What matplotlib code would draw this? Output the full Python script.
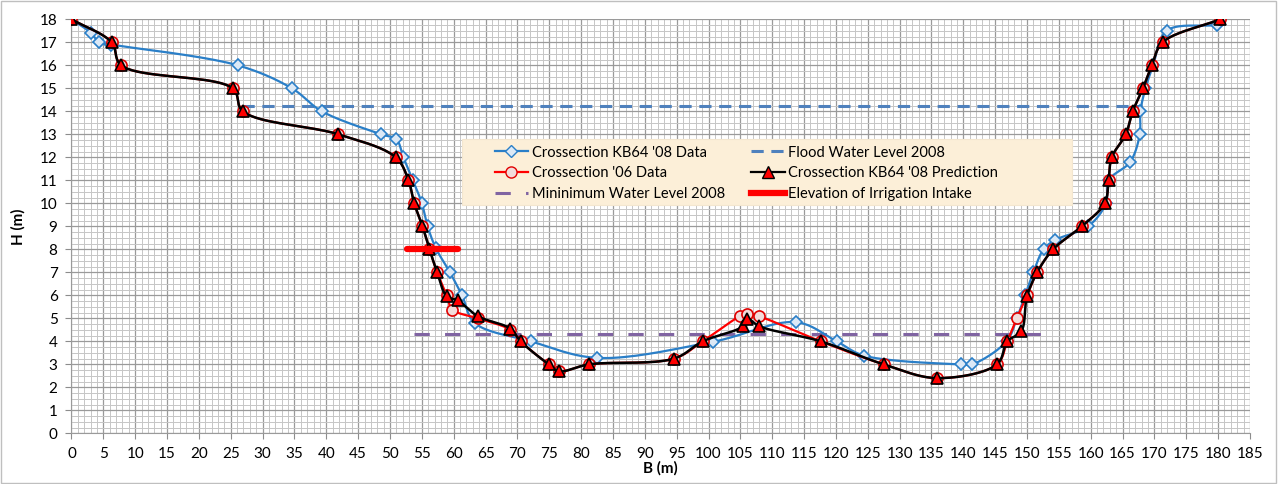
import numpy as np
import matplotlib
matplotlib.use('Agg')
from matplotlib import pyplot as plt
from matplotlib.ticker import MultipleLocator
from matplotlib.patches import Rectangle
from matplotlib.lines import Line2D

plt.rcParams['font.family'] = ['Lato', 'DejaVu Sans']

# Crossection KB64 '08 Data
b08 = [0, 3.1, 4.3, 6.2, 26.1, 34.6, 39.3, 48.6, 51.0, 52.1, 53.6, 55.0, 55.9, 57.2,
       59.4, 61.3, 63.3, 72.1, 82.5, 100.7, 113.8, 120.1, 124.4, 139.7, 141.4, 146.8,
       148.4, 149.7, 151.0, 152.6, 154.4, 159.6, 162.4, 162.8, 166.2, 167.7, 167.8,
       168.6, 169.8, 171.9, 179.8]
h08 = [18, 17.4, 17.0, 16.9, 16.0, 15.0, 14.0, 13.0, 12.78, 12.0, 11.0, 10.0, 9.0, 8.05,
       7.0, 6.0, 4.8, 4.0, 3.28, 3.98, 4.83, 4.0, 3.38, 3.0, 3.0, 4.0,
       5.0, 6.0, 7.0, 8.0, 8.4, 9.0, 10.0, 11.0, 11.8, 13.0, 14.0,
       15.0, 16.0, 17.5, 17.75]

# Crossection '06 Data
b06 = [0, 6.3, 7.8, 25.3, 26.9, 41.9, 50.9, 52.9, 53.8, 55.1, 56.2, 57.4, 58.9, 59.8,
       63.8, 68.9, 70.5, 74.9, 76.5, 81.3, 94.6, 99.1, 104.9, 106.0, 107.9, 117.6,
       127.5, 135.9, 145.3, 146.9, 148.4, 150.0, 151.6, 154.1, 158.6, 162.2, 162.8,
       163.3, 165.5, 166.6, 168.2, 169.6, 171.3, 180.3]
h06 = [18, 17, 16, 15, 14, 13, 12, 11, 10, 9, 8, 7, 6.0, 5.38,
       5.0, 4.5, 4.0, 3.0, 2.7, 3.0, 3.25, 4.0, 5.09, 5.2, 5.09, 4.0,
       3.0, 2.4, 3.0, 4.0, 5.0, 6.0, 7.0, 8.0, 9.0, 10.0, 11.0,
       12.0, 13.0, 14.0, 15.0, 16.0, 17.0, 18.0]

# Crossection KB64 '08 Prediction
bpr = [0, 6.3, 7.8, 25.3, 26.9, 41.9, 50.9, 52.9, 53.8, 55.1, 56.2, 57.4, 58.9, 60.6,
       63.8, 68.9, 70.5, 74.9, 76.5, 81.3, 94.6, 99.1, 105.4, 106.1, 108.0, 117.6,
       127.5, 135.9, 145.3, 146.9, 149.1, 150.0, 151.6, 154.1, 158.6, 162.2, 162.8,
       163.3, 165.5, 166.6, 168.2, 169.6, 171.3, 180.3]
hpr = [18, 17, 16, 15, 14, 13, 12, 11, 10, 9, 8, 7, 5.95, 5.78,
       5.09, 4.55, 4.0, 3.0, 2.7, 3.0, 3.25, 4.0, 4.65, 4.98, 4.65, 4.0,
       3.0, 2.4, 3.0, 4.0, 4.43, 5.95, 7.0, 8.0, 9.0, 10.0, 11.0,
       12.0, 13.0, 14.0, 15.0, 16.0, 17.0, 18.0]

flood_b = [26.7, 168.0]
flood_h = 14.25
minwl_b = [53.8, 154.1]
minwl_h = 4.3
intake_b = [52.6, 60.7]
intake_h = 8.0

YS = 3.6  # y stretch so distances match the screen


def smooth(x, y, n=20):
    # centripetal catmull-rom through the points (excel style smoothed line)
    p = np.column_stack([x, np.array(y, float) * YS]).astype(float)
    p = np.vstack([2 * p[0] - p[1], p, 2 * p[-1] - p[-2]])
    out = []
    for i in range(1, len(p) - 2):
        P0, P1, P2, P3 = p[i - 1], p[i], p[i + 1], p[i + 2]
        t0 = 0.0
        t1 = t0 + np.linalg.norm(P1 - P0) ** 0.5 + 1e-9
        t2 = t1 + np.linalg.norm(P2 - P1) ** 0.5 + 1e-9
        t3 = t2 + np.linalg.norm(P3 - P2) ** 0.5 + 1e-9
        t = np.linspace(t1, t2, n, endpoint=False)[:, None]
        A1 = (t1 - t) / (t1 - t0) * P0 + (t - t0) / (t1 - t0) * P1
        A2 = (t2 - t) / (t2 - t1) * P1 + (t - t1) / (t2 - t1) * P2
        A3 = (t3 - t) / (t3 - t2) * P2 + (t - t2) / (t3 - t2) * P3
        B1 = (t2 - t) / (t2 - t0) * A1 + (t - t0) / (t2 - t0) * A2
        B2 = (t3 - t) / (t3 - t1) * A2 + (t - t1) / (t3 - t1) * A3
        out.append((t2 - t) / (t2 - t1) * B1 + (t - t1) / (t2 - t1) * B2)
    out.append(p[-2][None, :])
    out = np.vstack(out)
    return out[:, 0], out[:, 1] / YS


fig = plt.figure(figsize=(12.79, 4.84), dpi=100)
ax = fig.add_axes([0.0559, 0.1047, 0.9773 - 0.0559, 0.9601 - 0.1047])
fig.patches.append(Rectangle((0.001, 0.002), 0.997, 0.995, transform=fig.transFigure,
                             fill=False, edgecolor='#BFBFBF', lw=1.0))

blue = '#2A7FC8'
sx, sy = smooth(b08, h08)
ax.plot(sx, sy, color=blue, lw=1.6, zorder=3)
ax.plot(b08, h08, ls='none', marker='D', ms=6, mfc='#DCE9F6', mec=blue, mew=1.2, zorder=4)

sx, sy = smooth(b06, h06)
ax.plot(sx, sy, color='#FF0000', lw=1.6, zorder=5)
ax.plot(b06, h06, ls='none', marker='o', ms=8, mfc='#F2DCDB', mec='#E00000', mew=1.2, zorder=6)

sx, sy = smooth(bpr, hpr)
ax.plot(sx, sy, color='black', lw=1.8, zorder=7)
ax.plot(bpr, hpr, ls='none', marker='^', ms=9, mfc='#FF0000', mec='black', mew=1.2, zorder=8)

ax.plot(flood_b, [flood_h, flood_h], color='#4F81BD', lw=2.2, dashes=(4, 2.5), zorder=2)
ax.plot(minwl_b, [minwl_h, minwl_h], color='#8064A2', lw=2.2, dashes=(5, 5), zorder=2)
ax.plot(intake_b, [intake_h, intake_h], color='#FF0000', lw=4.5, solid_capstyle='round', zorder=9)

ax.set_xlim(0, 185)
ax.set_ylim(0, 18)
ax.xaxis.set_major_locator(MultipleLocator(5))
ax.xaxis.set_minor_locator(MultipleLocator(1))
ax.yaxis.set_major_locator(MultipleLocator(1))
ax.yaxis.set_minor_locator(MultipleLocator(0.25))
ax.grid(which='major', color='#9A9A9A', lw=0.9)
ax.grid(which='minor', color='#C6C6C6', lw=0.7)
ax.set_axisbelow(True)
ax.tick_params(which='major', direction='out', length=4, color='#8C8C8C', labelsize=11, pad=6)
ax.tick_params(which='minor', length=0)
for s in ax.spines.values():
    s.set_color('#9A9A9A')
ax.spines['top'].set_visible(False)
ax.spines['right'].set_visible(False)

ax.set_xlabel('B (m)', fontsize=11, fontweight='bold', labelpad=0)
ax.set_ylabel('H (m)', fontsize=11, fontweight='bold', labelpad=10)

# legend background box
ax.add_patch(Rectangle((0.331, 0.552), 0.518, 0.159, transform=ax.transAxes,
                       facecolor='#FCEFD8', edgecolor='#F3E6CF', lw=0.8, zorder=19))

handles = [
    Line2D([], [], color=blue, lw=1.6, marker='D', ms=6, mfc='#DCE9F6', mec=blue),
    Line2D([], [], color='#FF0000', lw=1.6, marker='o', ms=8, mfc='#F2DCDB', mec='#E00000'),
    Line2D([], [], color='#8064A2', lw=2.2, dashes=(5, 5)),
    Line2D([], [], color='#4F81BD', lw=2.2, dashes=(4, 2.5)),
    Line2D([], [], color='black', lw=1.6, marker='^', ms=8, mfc='#FF0000', mec='black'),
    Line2D([], [], color='#FF0000', lw=4.5),
]
labels = ["Crossection KB64 '08 Data", "Crossection '06 Data", "Mininimum Water Level 2008",
          "Flood Water Level 2008", "Crossection KB64 '08 Prediction", "Elevation of Irrigation Intake"]
leg = ax.legend(handles, labels, ncol=2, loc='upper left',
                bbox_to_anchor=(0.359, 0.695), fontsize=10.5, frameon=False,
                handlelength=2.3, handletextpad=0.25, labelspacing=0.45,
                columnspacing=1.8, borderpad=0, borderaxespad=0)
leg.set_zorder(20)

fig.savefig('out.png', dpi=100)
